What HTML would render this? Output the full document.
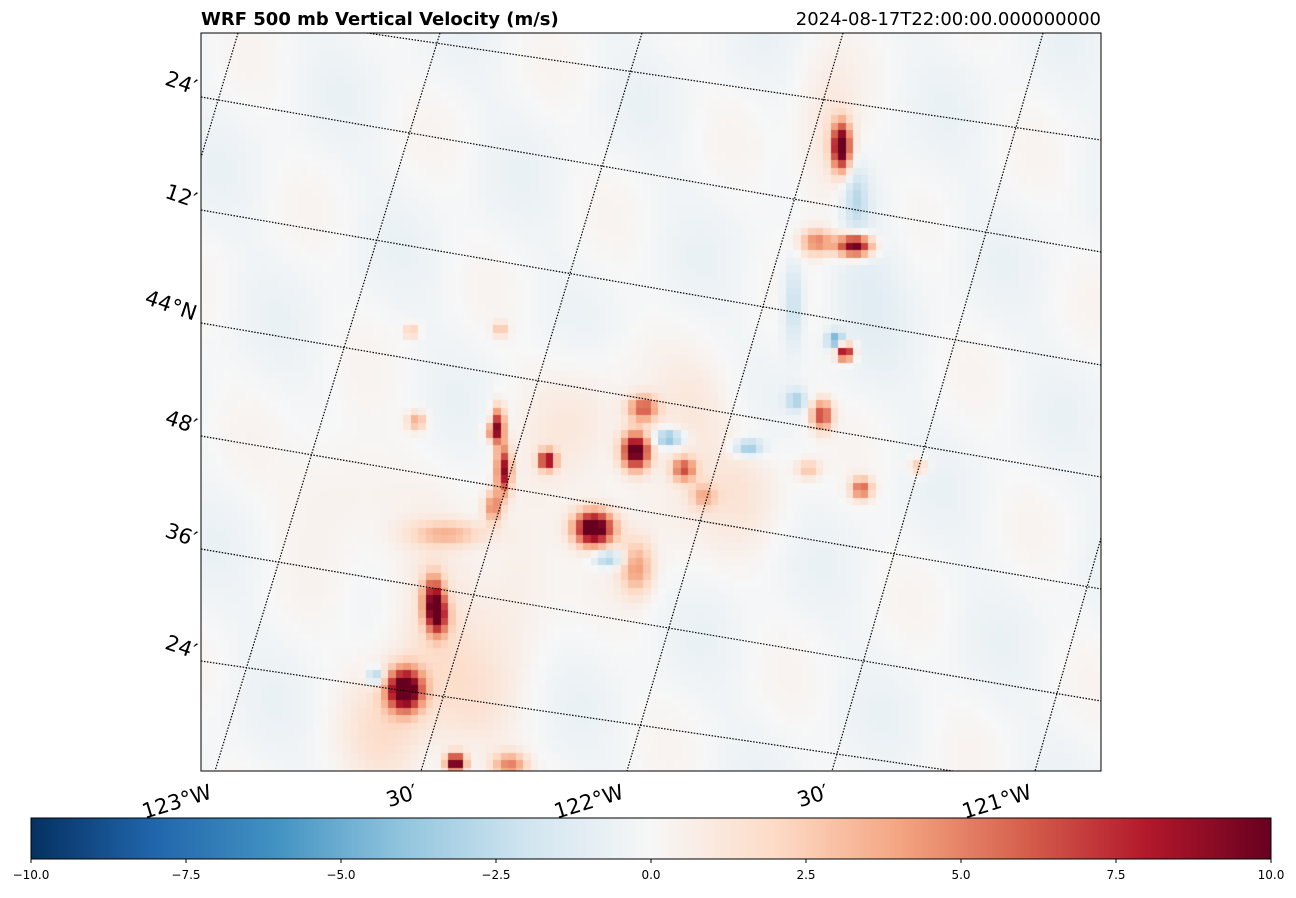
<!DOCTYPE html>
<html><head><meta charset="utf-8">
<style>
body{margin:0;width:1296px;height:893px;background:#fff;overflow:hidden;font-family:"Liberation Sans","DejaVu Sans",sans-serif;}
svg text{font-family:"DejaVu Sans","Liberation Sans",sans-serif;}
</style></head>
<body>
<svg id="fig" width="1296" height="893" viewBox="0 0 1296 893" xmlns="http://www.w3.org/2000/svg">
  <defs>
    <clipPath id="plotclip"><rect x="201" y="33" width="900" height="738"/></clipPath>
    <linearGradient id="cbgrad" x1="0" x2="1" y1="0" y2="0">
      <stop offset="0" stop-color="#053061"/><stop offset="0.1" stop-color="#2166ac"/>
      <stop offset="0.2" stop-color="#4393c3"/><stop offset="0.3" stop-color="#92c5de"/>
      <stop offset="0.4" stop-color="#d1e5f0"/><stop offset="0.5" stop-color="#f7f7f7"/>
      <stop offset="0.6" stop-color="#fddbc7"/><stop offset="0.7" stop-color="#f4a582"/>
      <stop offset="0.8" stop-color="#d6604d"/><stop offset="0.9" stop-color="#b2182b"/>
      <stop offset="1" stop-color="#67001f"/>
    </linearGradient>
  </defs>
  <text x="201" y="25" font-size="18" font-weight="bold">WRF 500 mb Vertical Velocity (m/s)</text>
  <text x="1101" y="25" font-size="18" text-anchor="end">2024-08-17T22:00:00.000000000</text>
  <foreignObject x="201" y="33" width="900" height="738">
    <canvas id="field" width="900" height="738" style="display:block"></canvas>
  </foreignObject>
  <g id="grid" clip-path="url(#plotclip)"></g>
  <rect x="201" y="33" width="900" height="738" fill="none" stroke="#000" stroke-width="1"/>
  <g id="labels"></g>
  <rect x="31" y="818" width="1240" height="41" fill="url(#cbgrad)" stroke="#000" stroke-width="1"/>
  <g id="cbticks"></g>
</svg>
<script>
// field blobs: grid column/row centers (in 7.5px cells), value m/s, spread in cells
const blobCol = [84.9,86.7,81.7,85.4,84.1,82.3,57.5,58.5,61.9,51.9,53.9,45.7,39.2,39.9,38.5,38.3,28.3,27.6,39.5,32.4,30.5,31.1,26.7,22.8,33.5,40.7,87.6,95.2,80.5,63.9,66.5,72.5,57.6,78.9,86.9,78.5,
  30,24,42,60,72,83,18,50,66,36,88];
const blobRow = [14.7,27.9,27.4,42.1,40.5,50.5,55.3,49.6,53.6,65.6,69.6,56.5,51.9,57.9,62.7,52.7,51.3,39.3,39.1,66.3,74.9,77.3,87.1,85.3,96.9,97.2,60.3,57.3,57.7,57.7,61.3,54.8,70.9,48.5,21.5,35.5,
  80,92,70,62,60,16,60,50,50,90,30];
const blobVal = [11,11,5,10,-5,7,11,6,-5,12,-4,9,8,9,5,4,4,3,3,3,7,7,12,-4,11,5,6,3,3,6,3,-4,4,-3,-2.5,-2.5,
  1.8,1.5,1.2,1.0,1.2,1.5,1.0,1.0,1.0,1.2,-0.8];
const blobSx = [0.9,1.6,1.6,0.8,0.8,1.0,1.3,1.4,1.4,1.8,1.5,0.8,0.6,0.7,0.8,0.7,0.9,0.7,0.7,3.5,1.0,1.0,1.6,0.8,0.9,1.6,1.0,0.8,1.1,1.1,1.2,1.4,1.5,1.0,1.2,1.0,
  4,4,4,5,4,3,5,5,4,4,4];
const blobSy = [2.2,1.0,1.2,0.8,0.8,1.4,1.7,1.2,0.8,1.6,0.8,0.9,1.8,2.2,1.5,0.8,0.9,0.7,0.7,1.2,2.2,1.8,1.9,0.8,0.9,1.2,1.0,0.8,0.9,1.1,1.2,0.8,2.5,1.0,3.0,4.0,
  8,6,8,6,5,8,6,6,5,6,8];
// colorbar ticks
const cbTicks = [-10,-7.5,-5,-2.5,0,2.5,5,7.5,10];
const cbLabels = ["\u221210.0","\u22127.5","\u22125.0","\u22122.5","0.0","2.5","5.0","7.5","10.0"];
// graticule
const latLabels = ["24\u2032","12\u2032","44\u00b0N","48\u2032","36\u2032","24\u2032"];
const lonLabels = ["123\u00b0W","30\u2032","122\u00b0W","30\u2032","121\u00b0W"];

const NS="http://www.w3.org/2000/svg";
const vmin=-10,vmax=10;
const stops=["#053061","#2166ac","#4393c3","#92c5de","#d1e5f0","#f7f7f7","#fddbc7","#f4a582","#d6604d","#b2182b","#67001f"].map(h=>[parseInt(h.slice(1,3),16),parseInt(h.slice(3,5),16),parseInt(h.slice(5,7),16)]);
function cmap(v){let t=(Math.max(vmin,Math.min(vmax,v))-vmin)/(vmax-vmin)*10;let i=Math.min(9,Math.floor(t));let f=t-i;const a=stops[i],b=stops[i+1];return `rgb(${Math.round(a[0]+(b[0]-a[0])*f)},${Math.round(a[1]+(b[1]-a[1])*f)},${Math.round(a[2]+(b[2]-a[2])*f)})`;}
const cb=x=>31+(x-vmin)/(vmax-vmin)*1240;

// draw field
const cv=document.getElementById('field');const ctx=cv.getContext('2d');
const cell=7.5,nc=120,nr=99;
for(let r=0;r<nr;r++)for(let c=0;c<nc;c++){
  let v=-0.2+0.3*Math.sin((c*0.9-r*0.35)*0.35)+0.2*Math.sin((c*0.3+r*0.5)*0.5);
  for(let k=0;k<blobCol.length;k++){const dx=(c-blobCol[k])/blobSx[k],dy=(r-blobRow[k])/blobSy[k];v+=blobVal[k]*Math.exp(-0.5*(dx*dx+dy*dy));}
  ctx.fillStyle=cmap(v);ctx.fillRect(Math.floor(c*cell),Math.floor(r*cell),Math.ceil(cell)+1,Math.ceil(cell)+1);
}

// gridlines
const g=document.getElementById('grid');
function line(x1,y1,x2,y2,name){const l=document.createElementNS(NS,'line');l.setAttribute('x1',x1);l.setAttribute('y1',y1);l.setAttribute('x2',x2);l.setAttribute('y2',y2);l.setAttribute('stroke','#000');l.setAttribute('stroke-width','1.2');l.setAttribute('stroke-dasharray','1.5,1.5');


g.appendChild(l);}
const parL=[[367,33,1101,140],[201,97,1101,252],[201,210,1101,365],[201,323,1101,477],[201,436,1101,589],[201,549,1101,701],[201,661,953,771]];
parL.forEach(p=>line(p[0],p[1],p[2],p[3],'parallel-line'));
const merT=[238,440,642,843,1043,1244],merB=[19,215,421,627,832,1035];
merT.forEach((t,i)=>line(t,33,merB[i],771,'meridian-line'));

// labels
const lg=document.getElementById('labels');
const latY=[95,208,321,434,547,659];
latLabels.forEach((s,i)=>{const t=document.createElementNS(NS,'text');t.textContent=s;t.setAttribute('x',196);t.setAttribute('y',latY[i]);t.setAttribute('font-size','21');t.setAttribute('text-anchor','end');t.setAttribute('transform',`rotate(19 196 ${latY[i]-7})`);


lg.appendChild(t);});
const lonX=[215,421,627,832,1035];
lonLabels.forEach((s,i)=>{const t=document.createElementNS(NS,'text');t.textContent=s;const x=lonX[i]-2,y=798;t.setAttribute('x',x);t.setAttribute('y',y);t.setAttribute('font-size','21');t.setAttribute('text-anchor','end');t.setAttribute('transform',`rotate(-17 ${x} ${y})`);


lg.appendChild(t);});

// colorbar ticks
const cg=document.getElementById('cbticks');
cbTicks.forEach((v,i)=>{const x=cb(v);const l=document.createElementNS(NS,'line');l.setAttribute('x1',x);l.setAttribute('x2',x);l.setAttribute('y1',859);l.setAttribute('y2',863);l.setAttribute('stroke','#000');


cg.appendChild(l);
const t=document.createElementNS(NS,'text');t.textContent=cbLabels[i];t.setAttribute('x',x);t.setAttribute('y',879);t.setAttribute('font-size','12');t.setAttribute('text-anchor','middle');


cg.appendChild(t);});
</script>
</body></html>
